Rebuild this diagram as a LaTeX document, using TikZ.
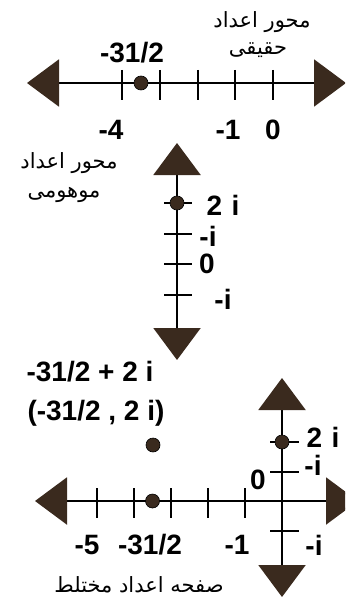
\documentclass[tikz,border=0pt]{standalone}
\usepackage{fontspec}
\setmainfont{Liberation Sans}
\newfontfamily\arabicfont[Script=Arabic]{DejaVu Sans}
\TeXXeTstate=1
\usetikzlibrary{arrows.meta, positioning, calc}
\definecolor{inkbrown}{HTML}{3A2A1E}
\tikzset{
  bigtip/.tip    = {Triangle[length=32pt, width=47pt, color=inkbrown]},
  axis/.style    = {line width=2.2pt, black, bigtip-bigtip},
  tick/.style    = {line width=2pt, black},
  dot/.style     = {circle, fill=inkbrown, draw=black, line width=0.6pt,
                    minimum size=14pt, inner sep=0pt},
  num/.style     = {font=\fontsize{28}{32}\selectfont\bfseries, inner sep=0pt},
  fa/.style      = {font=\arabicfont\fontsize{21}{24}\selectfont, inner sep=0pt},
}

\begin{document}
\begin{tikzpicture}[x=1pt, y=-1pt]
  \useasboundingbox (0,0) rectangle (345,607);
  \clip (0,0) rectangle (345,607);

  % =====================================================================
  % TOP: real axis
  % =====================================================================
  \coordinate (ro) at (273,83);
  \coordinate (rl) at (27,83);
  \coordinate (rr) at (346,83);
  \draw[axis] (rl) -- (rr);
  \foreach \v in {0,...,4}
    \draw[tick] ($(ro)+(-37.75*\v,-13)$) -- ++(0,30);
  \node[dot] (rp) at ($(ro)+(-132,0)$) {};

  \node[num] (rplab) at (132,53)  {-31/2};
  \node[num] (rm4)   at (111,130) {-4};
  \node[num] (rm1)   at (228,130) {-1};
  \node[num] (r0)    at (273,130) {0};

  \node[fa] (rt1) at (262,22) {\beginR محور اعداد\endR};
  \node[fa] (rt2) at (258,50) {\beginR حقیقی\endR};

  % =====================================================================
  % MIDDLE: imaginary axis
  % =====================================================================
  \coordinate (io) at (177,264);
  \coordinate (it) at (177,143);
  \coordinate (ib) at (177,360);
  \draw[axis] (ib) -- (it);
  \foreach \v in {-1,...,2}
    \draw[tick] ($(io)+(-13,-30.5*\v)$) -- ++(28,0);
  \node[dot] (ip) at ($(io)+(0,-61)$) {};

  \node[num] (i2)  at (223,205) {2\,\,i};
  \node[num] (i1)  at (208,236) {-i};
  \node[num] (i0)  at (207,264) {0};
  \node[num] (im1) at (223,299) {-i};

  \node[fa] (it1) at (69,163) {\beginR محور اعداد\endR};
  \node[fa] (it2) at (64,195) {\beginR موهومی\endR};

  % =====================================================================
  % BOTTOM: complex plane
  % =====================================================================
  \coordinate (co) at (282,501);
  \coordinate (cl) at (35,501);
  \coordinate (cr) at (358,501);
  \coordinate (ct) at (282,378);
  \coordinate (cb) at (282,597);
  \draw[axis] (cl) -- (cr);
  \draw[axis] (cb) -- (ct);
  \foreach \v in {1,...,5}
    \draw[tick] ($(co)+(-37*\v,-13)$) -- ++(0,30);
  \foreach \v in {-1,1,2}
    \draw[tick] ($(co)+(-12,-29.5*\v)$) -- ++(29,0);
  \node[dot] (c2i) at ($(co)+(0,-59)$) {};
  \node[dot] (cre) at ($(co)+(-129.5,0)$) {};
  \node[dot] (cz)  at (153,445) {};

  \node[num] (cz1) at (90,372)  {-31/2 + 2 i};
  \node[num] (cz2) at (96,413)  {(-31/2 , 2 i)};

  \node[num] (c2l)  at (323,437) {2\,\,i};
  \node[num] (c1l)  at (313,465) {-i};
  \node[num] (c0l)  at (258,480) {0};
  \node[num] (cm1l) at (314,545) {-i};
  \node[num] (cm5)  at (87,545)  {-5};
  \node[num] (crel) at (150,545) {-31/2};
  \node[num] (cm1)  at (237,545) {-1};

  \node[fa] (cname) at (139,585) {\beginR صفحه اعداد مختلط\endR};

\end{tikzpicture}
\end{document}
